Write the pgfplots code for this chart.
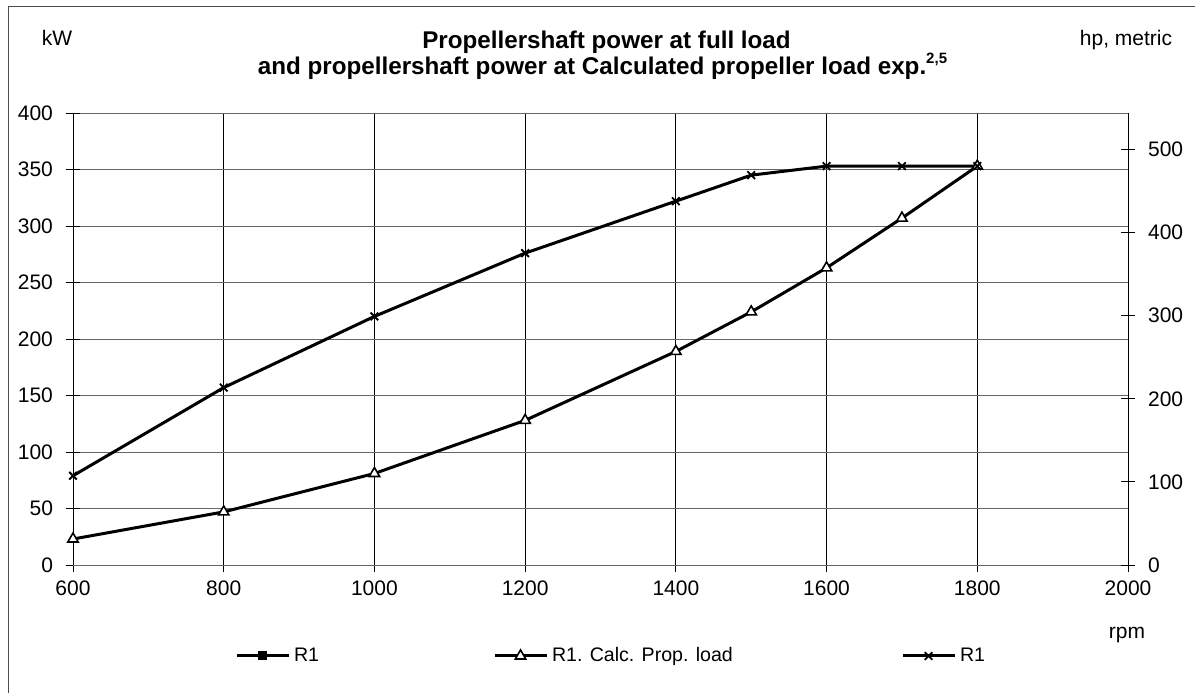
\documentclass[border=0pt]{standalone}
\usepackage{pgfplots}
\pgfplotsset{compat=1.18}
\usepackage{fontspec}
\setmainfont{Liberation Sans}
\begin{document}
\begin{tikzpicture}[x=1pt,y=1pt]
\useasboundingbox (0,0) rectangle (597.5,346.5);
\draw[line width=0.5pt,black!70] (4,0) -- (4,343.5) -- (597.5,343.5);
\begin{axis}[
  at={(36.5pt,64pt)}, anchor=south west,
  scale only axis, width=527.5pt, height=226pt,
  xmin=600, xmax=2000, ymin=0, ymax=400,
  xtick={600,800,...,2000}, ytick={0,50,...,400},
  axis y line*=left, axis x line*=bottom,
  x axis line style={black!60, line width=0.5pt},
  y axis line style={black, line width=0.5pt},
  tick align=center, major tick length=7pt,
  tick style={black, line width=0.5pt},
  xmajorgrids, ymajorgrids,
  x grid style={black, line width=0.5pt},
  y grid style={black!60, line width=0.5pt},
  tick label style={font=\fontsize{10.5}{12}\selectfont},
  /pgf/number format/assume math mode=true,
  /pgf/number format/1000 sep={},
  yticklabel style={xshift=-3pt},
  xticklabel style={yshift=-1pt},
  legend columns=3,
  legend style={at={(0.1536,-0.2013)}, anchor=west, draw=none, fill=none,
    inner sep=0pt, outer sep=0pt, column sep=2pt,
    nodes={inner sep=0pt}, font=\fontsize{9.8}{11}\selectfont},
  legend image code/.code={\draw[mark repeat=2,mark phase=2,#1] plot coordinates {(0pt,0pt) (13pt,0pt) (26pt,0pt)};},
  clip=false,
]
\addlegendimage{black, line width=1.5pt, mark=square*, mark size=2pt, mark options={line width=0.5pt}}
\addlegendentry{\makebox[97.5pt][l]{R1}}
\addplot[black, line width=1.5pt, mark=triangle*, mark size=3pt, mark options={fill=white, line width=0.8pt}] coordinates {
(600,23) (800,47) (1000,81) (1200,128) (1400,189) (1500,224) (1600,263) (1700,307) (1800,353)};
\addlegendentry{\makebox[172.5pt][l]{R1. Calc. Prop. load}}
\addplot[black, line width=1.5pt, mark=x, mark size=2.7pt, mark options={line width=0.9pt}] coordinates {
(600,79) (800,157) (1000,220) (1200,276) (1400,322) (1500,345) (1600,353) (1700,353) (1800,353)};
\addlegendentry{R1}
\end{axis}
\begin{axis}[
  at={(36.5pt,64pt)}, anchor=south west,
  scale only axis, width=527.5pt, height=226pt,
  xmin=600, xmax=2000, ymin=0, ymax=543.84,
  ytick={0,100,...,500},
  axis y line*=right, axis x line=none,
  y axis line style={black, line width=0.5pt},
  tick align=center, major tick length=7pt,
  tick style={black, line width=0.5pt},
  tick label style={font=\fontsize{10.5}{12}\selectfont},
  /pgf/number format/assume math mode=true,
  yticklabel style={xshift=3pt},
]
\addplot[draw=none] coordinates {(600,0)};
\end{axis}
\node[anchor=base] at (28.5,323.5) {\fontsize{10.5}{12}\selectfont kW};
\node[anchor=base] at (563,323.5) {\fontsize{10.5}{12}\selectfont hp, metric};
\node[anchor=base] at (303.25,322.5) {\bfseries\fontsize{12.1}{14}\selectfont Propellershaft power at full load};
\node[anchor=base] at (301.25,309.5) {\bfseries\fontsize{12.1}{14}\selectfont and propellershaft power at Calculated propeller load exp.\raisebox{0.45em}{\fontsize{7.5}{8}\selectfont 2,5}};
\node[anchor=base] at (563.5,27.5) {\fontsize{10.5}{12}\selectfont rpm};
\end{tikzpicture}
\end{document}
